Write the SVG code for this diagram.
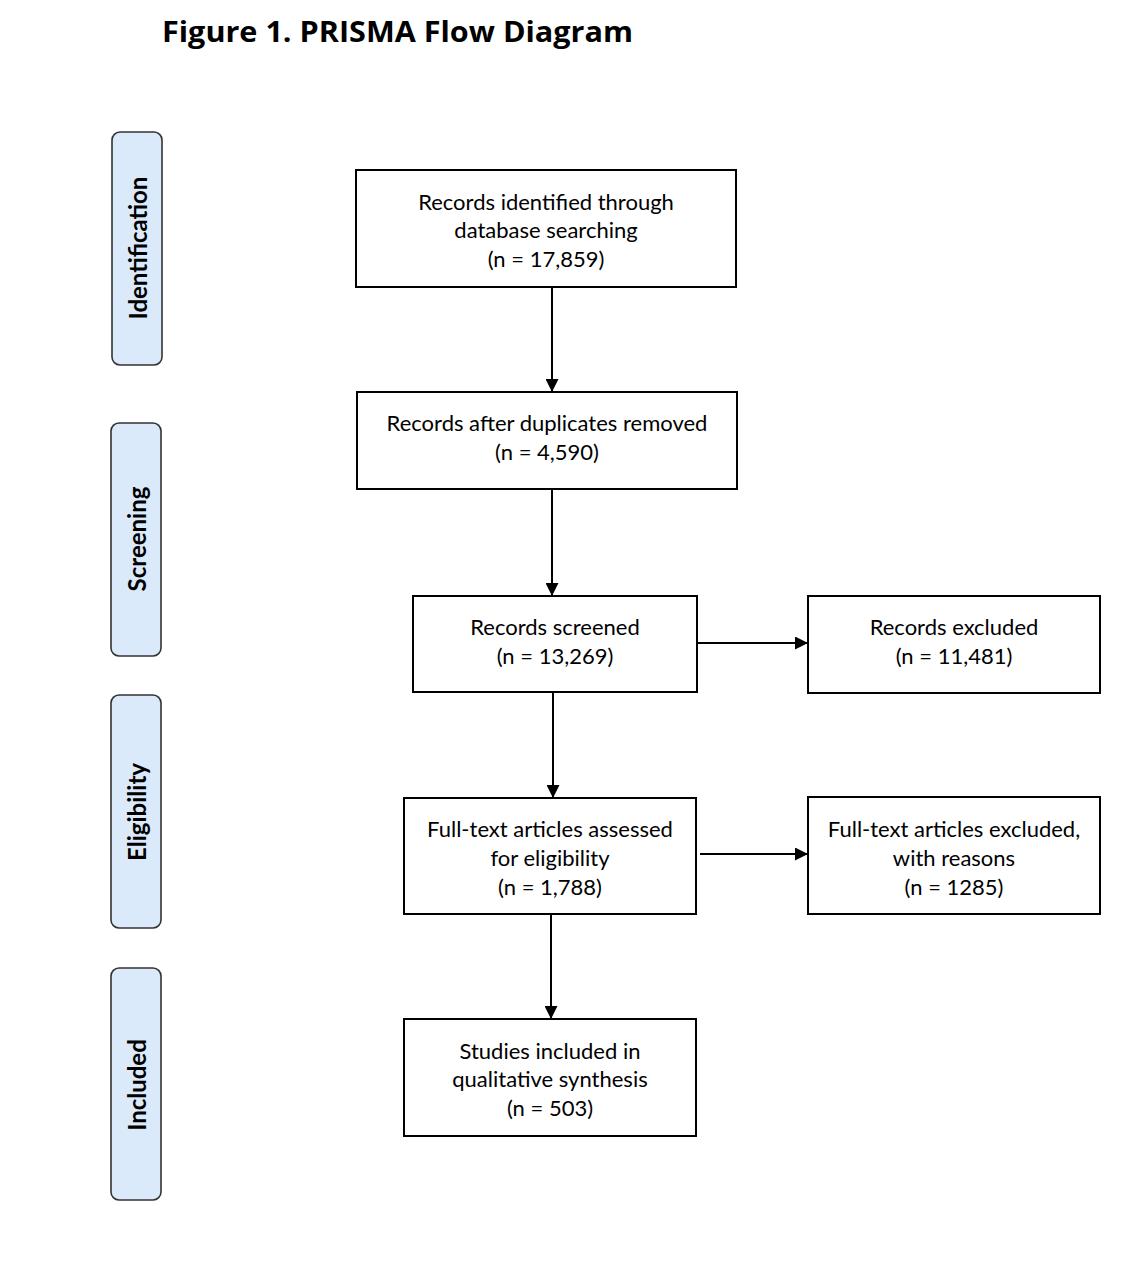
<svg xmlns="http://www.w3.org/2000/svg" width="1136" height="1266" viewBox="0 0 1136 1266">
<defs>
<marker id="ah" markerWidth="13" markerHeight="13" refX="12" refY="6.5" orient="auto" markerUnits="userSpaceOnUse">
<path d="M0,0 L13,6.5 L0,13 Z" fill="#000"/>
</marker>
<style>
.box{fill:#fff;stroke:#000;stroke-width:2}
.phase{fill:#dbeafb;stroke:#333;stroke-width:1.6}
.t{font-family:Lato,"Open Sans",sans-serif;font-size:22px;fill:#000;text-anchor:middle}
.p{font-family:Lato,"Open Sans",sans-serif;font-size:24px;font-weight:bold;fill:#000;text-anchor:middle}
.c{stroke:#000;stroke-width:2;fill:none;marker-end:url(#ah)}
</style>
</defs>
<rect width="1136" height="1266" fill="#fff"/>
<text x="162" y="42" font-family="'Open Sans',sans-serif" font-size="28" font-weight="bold" fill="#000" textLength="471" lengthAdjust="spacingAndGlyphs">Figure 1. PRISMA Flow Diagram</text>

<g id="phase-identification">
<rect class="phase" x="112" y="132" width="50" height="233" rx="8"/>
<text class="p" transform="translate(147,248) rotate(-90)">Identification</text>
</g>
<g id="phase-screening">
<rect class="phase" x="111" y="423" width="50" height="233" rx="8"/>
<text class="p" transform="translate(146,539) rotate(-90)">Screening</text>
</g>
<g id="phase-eligibility">
<rect class="phase" x="111" y="695" width="50" height="233" rx="8"/>
<text class="p" transform="translate(146,812) rotate(-90)">Eligibility</text>
</g>
<g id="phase-included">
<rect class="phase" x="111" y="968" width="50" height="232" rx="8"/>
<text class="p" transform="translate(146,1085) rotate(-90)">Included</text>
</g>

<g id="connectors">
<line class="c" x1="552" y1="287" x2="552" y2="391"/>
<line class="c" x1="552" y1="489" x2="552" y2="595"/>
<line class="c" x1="553" y1="692" x2="553" y2="797"/>
<line class="c" x1="551" y1="914" x2="551" y2="1018"/>
<line class="c" x1="697" y1="643" x2="807" y2="643"/>
<line class="c" x1="700" y1="854" x2="807" y2="854"/>
</g>

<g id="n-identified">
<rect class="box" x="356" y="170" width="380" height="117"/>
<text class="t" x="546" y="210">Records identified through</text>
<text class="t" x="546" y="238">database searching</text>
<text class="t" x="546" y="267">(n = 17,859)</text>
</g>
<g id="n-duplicates">
<rect class="box" x="357" y="392" width="380" height="97"/>
<text class="t" x="547" y="431">Records after duplicates removed</text>
<text class="t" x="547" y="460">(n = 4,590)</text>
</g>
<g id="n-screened">
<rect class="box" x="413" y="596" width="284" height="96"/>
<text class="t" x="555" y="635">Records screened</text>
<text class="t" x="555" y="664">(n = 13,269)</text>
</g>
<g id="n-excluded">
<rect class="box" x="808" y="596" width="292" height="97"/>
<text class="t" x="954" y="635">Records excluded</text>
<text class="t" x="954" y="664">(n = 11,481)</text>
</g>
<g id="n-fulltext">
<rect class="box" x="404" y="798" width="292" height="116"/>
<text class="t" x="550" y="837">Full-text articles assessed</text>
<text class="t" x="550" y="866">for eligibility</text>
<text class="t" x="550" y="895">(n = 1,788)</text>
</g>
<g id="n-fulltext-excluded">
<rect class="box" x="808" y="797" width="292" height="117"/>
<text class="t" x="954" y="837">Full-text articles excluded,</text>
<text class="t" x="954" y="866">with reasons</text>
<text class="t" x="954" y="895">(n = 1285)</text>
</g>
<g id="n-included">
<rect class="box" x="404" y="1019" width="292" height="117"/>
<text class="t" x="550" y="1059">Studies included in</text>
<text class="t" x="550" y="1087">qualitative synthesis</text>
<text class="t" x="550" y="1116">(n = 503)</text>
</g>
</svg>
